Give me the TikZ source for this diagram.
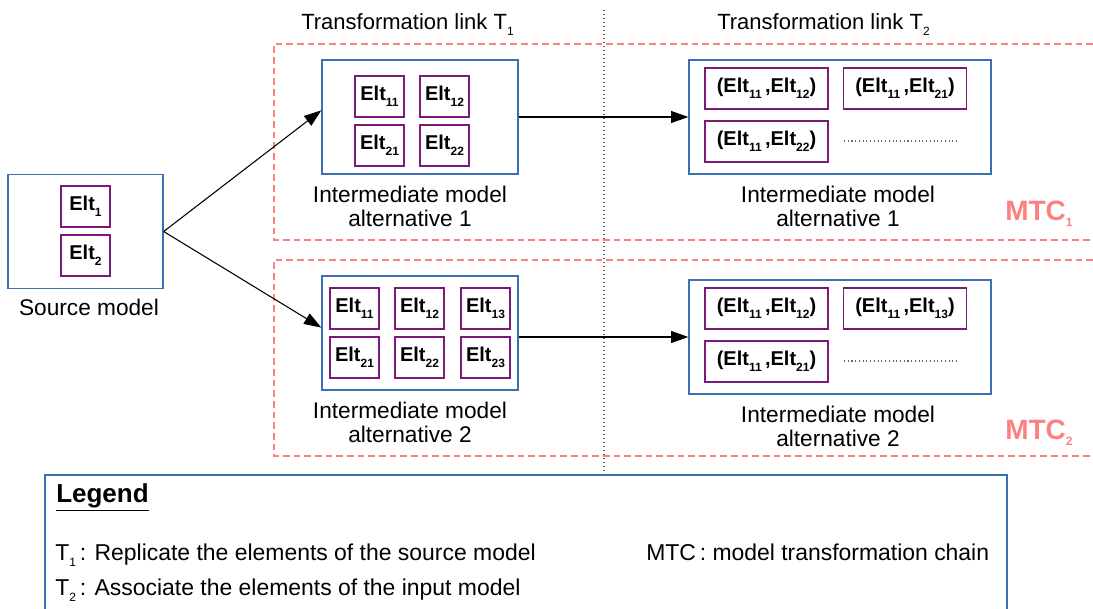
\documentclass[tikz,border=0pt]{standalone}
\usepackage{fontspec}
\setmainfont{Liberation Sans}
\usetikzlibrary{arrows.meta}
\usetikzlibrary{positioning}
\definecolor{modelblue}{HTML}{3C6EB4}
\definecolor{eltpurple}{HTML}{7A1A7A}
\definecolor{mtcred}{HTML}{FF8080}
\newcommand{\idx}[1]{\raisebox{-4.5pt}{\fontsize{9}{9}\selectfont #1}}

\begin{document}
\begin{tikzpicture}[x=0.75pt,y=-0.75pt]
\useasboundingbox (0,0) rectangle (1093,609);
\tikzstyle{model}=[draw=modelblue,line width=1pt,rectangle,inner sep=0pt,minimum height=85.5pt]
\tikzstyle{elt}=[draw=eltpurple,line width=1pt,rectangle,inner sep=0pt,
        minimum width=36.75pt,minimum height=30.75pt,font=\fontsize{15}{15}\selectfont\bfseries]
\tikzstyle{pair}=[elt,minimum width=92.25pt]
\tikzstyle{lbl}=[align=center,font=\fontsize{17}{18}\selectfont]
\tikzstyle{txt}=[anchor=base west,inner sep=0pt,font=\fontsize{16.5}{18}\selectfont]
\tikzstyle{chain}=[draw=mtcred,line width=1.5pt,dash pattern=on 5pt off 3pt]
\tikzstyle{mtc}=[anchor=base west,inner sep=0pt,text=mtcred,font=\fontsize{21}{21}\selectfont\bfseries]
%style des fleches
\tikzstyle{suite}=[-{Triangle[length=13pt,width=9pt]},line width=0.8pt]
%chaines
\draw[chain] (1093,44) -| (274,240) -- (1093,240);
\draw[chain] (1093,260) -| (274,456) -- (1093,456);
\draw[black!65,line width=1pt,dotted] (604,10) -- (604,475);
\node[txt] (hdrA) at (301,30) {Transformation link T\idx{1}};
\node[txt] (hdrB) at (717,30) {Transformation link T\idx{2}};
%modele source
\node[model,minimum width=116.25pt] (source) at (85.5,231.5) {};
\node[elt] (s1) at (85.5,206.5) {Elt\idx{1}};
\node[elt] (s2) at (85.5,255.5) {Elt\idx{2}};
\node[lbl] (sourcelbl) at (89,307) {Source model};
%alternative 1
\node[model,minimum width=147pt] (im1) at (420,117) {};
\node[elt] (a11) at (379.5,96.5) {Elt\idx{11}};
\node[elt] (a12) at (444.5,96.5) {Elt\idx{12}};
\node[elt] (a21) at (379.5,145.5) {Elt\idx{21}};
\node[elt] (a22) at (444.5,145.5) {Elt\idx{22}};
\node[lbl] (im1lbl) at (410,206) {Intermediate model\\alternative 1};
\node[model,minimum width=226.5pt] (out1) at (840,117) {};
\node[pair] (p11) at (766.5,88.5) {(Elt\idx{11}\,,Elt\idx{12})};
\node[pair] (p12) at (905,88.5) {(Elt\idx{11}\,,Elt\idx{21})};
\node[pair] (p13) at (766.5,141.5) {(Elt\idx{11}\,,Elt\idx{22})};
\draw[black!60,line width=0.8pt,dotted] (844,141) -- (959,141);
\node[lbl] (out1lbl) at (838,206) {Intermediate model\\alternative 1};
\node[mtc] (mtcA) at (1005,221) {MTC\idx{1}};
%alternative 2
\node[model,minimum width=147pt] (im2) at (420,333) {};
\node[elt] (b11) at (354.5,308.5) {Elt\idx{11}};
\node[elt] (b12) at (419.5,308.5) {Elt\idx{12}};
\node[elt] (b13) at (485.5,308.5) {Elt\idx{13}};
\node[elt] (b21) at (354.5,357.5) {Elt\idx{21}};
\node[elt] (b22) at (419.5,357.5) {Elt\idx{22}};
\node[elt] (b23) at (485.5,357.5) {Elt\idx{23}};
\node[lbl] (im2lbl) at (410,422) {Intermediate model\\alternative 2};
\node[model,minimum width=226.5pt] (out2) at (840,337) {};
\node[pair] (q11) at (766.5,308.5) {(Elt\idx{11}\,,Elt\idx{12})};
\node[pair] (q12) at (905,308.5) {(Elt\idx{11}\,,Elt\idx{13})};
\node[pair] (q13) at (766.5,361.5) {(Elt\idx{11}\,,Elt\idx{21})};
\draw[black!60,line width=0.8pt,dotted] (844,361) -- (959,361);
\node[lbl] (out2lbl) at (838,426) {Intermediate model\\alternative 2};
\node[mtc] (mtcB) at (1005,440) {MTC\idx{2}};
%fleches
\draw[suite] (source.east) -- ([yshift=5pt]im1.west);
\draw[suite] (source.east) -- ([yshift=4pt]im2.west);
\draw[suite] (im1) -- (out1);
\draw[suite] (im2.east |- out2.west) -- (out2.west);
%legende
\node[draw=modelblue,line width=1pt,minimum width=721.5pt,minimum height=108.75pt,inner sep=0pt] (legend) at (526,547.5) {};
\node[txt,font=\fontsize{19.5}{20}\selectfont\bfseries] (legendttl) at (56,503) {\underline{Legend}};
\node[txt,font=\fontsize{17.2}{18}\selectfont] (legT1) at (55,561) {T\idx{1}\,: Replicate the elements of the source model};
\node[txt,font=\fontsize{17.2}{18}\selectfont] (legT2) at (55,595) {T\idx{2}\,: Associate the elements of the input model};
\node[txt,font=\fontsize{17.2}{18}\selectfont] (legMTC) at (646,561) {MTC\,: model transformation chain};
\end{tikzpicture}
\end{document}
